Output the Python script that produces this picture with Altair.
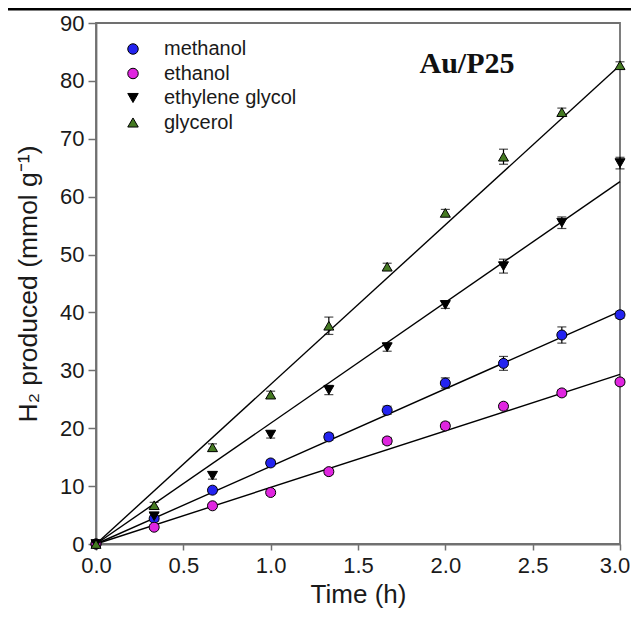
import altair as alt
import pandas as pd

# ---- data ----
times = [0.0, 0.333, 0.667, 1.0, 1.333, 1.667, 2.0, 2.333, 2.667, 3.0]
series = ["methanol", "ethanol", "ethylene glycol", "glycerol"]

methanol = [0.0, 4.4, 9.3, 14.0, 18.5, 23.1, 27.8, 31.2, 36.1, 39.6]
ethanol = [0.0, 2.9, 6.6, 8.9, 12.5, 17.8, 20.4, 23.8, 26.1, 28.0]
ethylene_glycol = [0.0, 4.8, 11.8, 18.9, 26.6, 34.0, 41.3, 48.0, 55.5, 65.8]
glycerol = [0.0, 6.7, 16.7, 25.8, 37.7, 47.9, 57.2, 66.9, 74.6, 82.7]

err_methanol = [0.3, 0.4, 0.5, 0.5, 0.6, 0.7, 0.9, 1.2, 1.4, 0.6]
err_ethanol = [0.3, 0.4, 0.4, 0.5, 0.5, 0.6, 0.6, 0.5, 0.5, 0.5]
err_ethylene_glycol = [0.3, 0.5, 0.6, 0.6, 0.8, 0.7, 0.6, 1.2, 1.0, 1.0]
err_glycerol = [0.3, 0.5, 0.6, 0.6, 1.5, 0.6, 0.6, 1.3, 0.7, 0.6]

# linear fits through the origin: value at t = 0 and at t = 3 h
fit_t = [0.0, 3.0]
fit_end = [40.2, 29.3, 62.6, 82.7]

colors = ["#2323f0", "#e025e0", "#000000", "#457a22"]
outline = ["#000000", "#000000", "#000000", "#000000"]
shapes = ["circle", "circle", "triangle-down", "triangle-up"]

x_ticks = [0.0, 0.5, 1.0, 1.5, 2.0, 2.5, 3.0]
y_ticks = [0, 10, 20, 30, 40, 50, 60, 70, 80, 90]

# ---- tables ----
rows = []
for name, vals, errs in zip(series,
                            [methanol, ethanol, ethylene_glycol, glycerol],
                            [err_methanol, err_ethanol, err_ethylene_glycol, err_glycerol]):
    for t, v, e in zip(times, vals, errs):
        rows.append({"series": name, "t": t, "v": v, "lo": v - e, "hi": v + e})
df = pd.DataFrame(rows)

fit_rows = []
for name, end in zip(series, fit_end):
    fit_rows.append({"series": name, "t": fit_t[0], "v": 0.0})
    fit_rows.append({"series": name, "t": fit_t[1], "v": end})
fit = pd.DataFrame(fit_rows)

FONT = "Liberation Sans"

xsc = alt.Scale(domain=[0, 3], nice=False, zero=False)
ysc = alt.Scale(domain=[0, 90], nice=False)

X = alt.X("t:Q", scale=xsc,
          axis=alt.Axis(values=x_ticks, format=".1f", title="Time (h)", labelFlush=False,
                        labelOffset={"condition": {"test": "datum.value >= 3", "value": -5.5},
                                     "value": 0},
                        tickSize=6, labelPadding=5, titlePadding=5, titleFontSize=26))
Y = alt.Y("v:Q", scale=ysc,
          axis=alt.Axis(values=y_ticks, format="d", title="H₂ produced (mmol g⁻¹)",
                        labelFlush=False, tickSize=8, labelPadding=4, titlePadding=17,
                        titleFontSize=26.5))

lines = alt.Chart(fit).mark_line(color="black", strokeWidth=1.4, clip=False).encode(
    x=X, y=Y, detail="series:N")

bars = alt.Chart(df).mark_rule(color="black", strokeWidth=1.2).encode(
    x="t:Q", y="lo:Q", y2="hi:Q")
cap_lo = alt.Chart(df).mark_tick(color="black", orient="horizontal", size=9, thickness=1.2).encode(
    x="t:Q", y="lo:Q")
cap_hi = alt.Chart(df).mark_tick(color="black", orient="horizontal", size=9, thickness=1.2).encode(
    x="t:Q", y="hi:Q")

legend = alt.Legend(title=None, orient="none", legendX=27, legendY=16,
                    labelFont=FONT, labelFontSize=20, labelColor="#1a1a1a",
                    symbolSize=110, symbolStrokeWidth=1,
                    symbolOpacity=1, rowPadding=4.5, labelOffset=21,
                    padding=0)

pts = alt.Chart(df).mark_point(strokeWidth=1, size=100,
                               opacity=1, fillOpacity=1, clip=False).encode(
    x="t:Q", y="v:Q",
    fill=alt.Fill("series:N", scale=alt.Scale(domain=series, range=colors), legend=legend),
    stroke=alt.Stroke("series:N", scale=alt.Scale(domain=series, range=outline), legend=legend),
    shape=alt.Shape("series:N", scale=alt.Scale(domain=series, range=shapes), legend=legend),
)

label = alt.Chart(pd.DataFrame({"txt": ["Au/P25"]})).mark_text(
    font="Liberation Serif", fontSize=30, fontWeight="bold", color="#111111",
    align="center", baseline="alphabetic").encode(
    text="txt:N", x=alt.value(371), y=alt.value(50))

header = alt.Chart(pd.DataFrame({"a": [0]})).mark_rule(color="black", strokeWidth=2.8).encode(
    x=alt.value(-88), x2=alt.value(535), y=alt.value(-14))

chart = alt.layer(lines, bars, cap_lo, cap_hi, pts, label, header).properties(
    width=524, height=521,
    autosize=alt.AutoSizeParams(type="none"),
    padding={"left": 88, "top": 15, "right": 11, "bottom": 66},
).configure_view(
    stroke="#707070", strokeWidth=1.8
).configure_axis(
    grid=False, domainColor="#707070", domainWidth=1.8, tickColor="#707070", tickWidth=1.5,
    labelFont=FONT, labelFontSize=22, labelColor="#1a1a1a",
    titleFont=FONT, titleFontWeight="normal", titleColor="#1a1a1a",
)

chart.save("out.html", embed_options={"renderer": "svg", "actions": False})
